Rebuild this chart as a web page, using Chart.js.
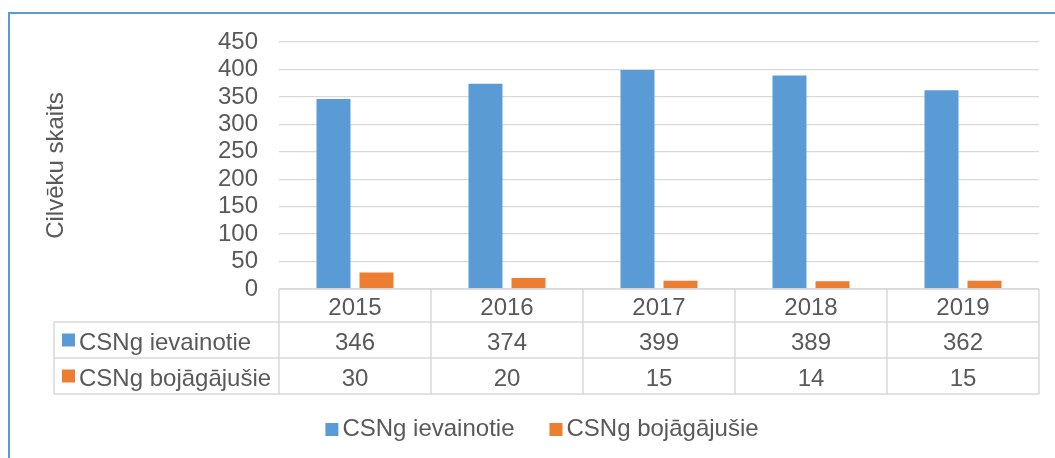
<!DOCTYPE html>
<html><head><meta charset="utf-8">
<script src="https://cdn.jsdelivr.net/npm/chart.js@4"></script>
<style>
html,body{margin:0;padding:0;background:#fff;}
#wrap{position:relative;width:1055px;height:458px;overflow:hidden;background:#fff;}
#frame{position:absolute;left:8px;top:12px;width:1200px;height:600px;border-left:2px solid #5B9BD5;border-top:2px solid #5B9BD5;box-sizing:border-box;}
canvas{position:absolute;left:0;top:0;}
</style></head><body>
<div id="wrap"><div id="frame"></div><canvas id="c" width="1055" height="458"></canvas></div>
<script>
// ---- data ----
const categories = ['2015', '2016', '2017', '2018', '2019'];
const seriesNames = ['CSNg ievainotie', 'CSNg bojāgājušie'];
const injured = [346, 374, 399, 389, 362];
const killed = [30, 20, 15, 14, 15];
const yMin = 0, yMax = 450, yStep = 50;
const yTitle = 'Cilvēku skaits';

// ---- style ----
const colors = ['#5B9BD5', '#ED7D31'];
const textColor = '#595959';
const gridColor = '#d9d9d9';
const fontFamily = '"Liberation Sans", Arial, sans-serif';
const fontSize = 24;

const seriesValues = [injured, killed];

const tablePlugin = {
  id: 'dataTable',
  afterDraw(chart) {
    const ctx = chart.ctx;
    const xs = chart.scales.x, ys = chart.scales.y;
    const half = (xs.getPixelForValue(1) - xs.getPixelForValue(0)) / 2;
    const left = xs.getPixelForValue(0) - half;
    const n = categories.length;
    const top = ys.getPixelForValue(0);
    const rows = [top, top + 33, top + 69, top + 105];
    const labelLeft = 54;
    ctx.save();
    ctx.strokeStyle = gridColor;
    ctx.lineWidth = 1.5;
    const line = (x1, y1, x2, y2) => { ctx.beginPath(); ctx.moveTo(x1, y1); ctx.lineTo(x2, y2); ctx.stroke(); };
    const right = left + n * 2 * half;
    line(left, rows[0], right, rows[0]);
    line(labelLeft, rows[1], right, rows[1]);
    line(labelLeft, rows[2], right, rows[2]);
    line(labelLeft, rows[3], right, rows[3]);
    for (let i = 0; i <= n; i++) {
      const x = left + i * 2 * half;
      line(x, rows[0], x, rows[3]);
    }
    line(labelLeft, rows[1], labelLeft, rows[3]);

    ctx.font = fontSize + 'px ' + fontFamily;
    ctx.fillStyle = textColor;
    ctx.textBaseline = 'alphabetic';
    ctx.textAlign = 'center';
    categories.forEach((c, i) => {
      ctx.fillText(c, xs.getPixelForValue(i), rows[0] + 26);
    });
    seriesValues.forEach((vals, s) => {
      const base = rows[s + 1] + 28;
      ctx.textAlign = 'center';
      ctx.fillStyle = textColor;
      vals.forEach((v, i) => ctx.fillText(String(v), xs.getPixelForValue(i), base));
      const cy = (rows[s + 1] + rows[s + 2]) / 2;
      ctx.fillStyle = colors[s];
      ctx.fillRect(62, cy - 6.5, 13, 13);
      ctx.fillStyle = textColor;
      ctx.textAlign = 'left';
      ctx.fillText(seriesNames[s], 79, base);
    });

    // legend
    const box = 13, gap = 4, itemGap = 35;
    const widths = seriesNames.map(s => ctx.measureText(s).width);
    const total = widths.reduce((a, w) => a + box + gap + w, 0) + itemGap * (seriesNames.length - 1);
    let x = 542 - total / 2;
    const ly = 436;
    seriesNames.forEach((s, i) => {
      ctx.fillStyle = colors[i];
      ctx.fillRect(x, ly - 13, box, box);
      ctx.fillStyle = textColor;
      ctx.textAlign = 'left';
      ctx.fillText(s, x + box + gap, ly);
      x += box + gap + widths[i] + itemGap;
    });
    ctx.restore();
  }
};

new Chart(document.getElementById('c'), {
  type: 'bar',
  data: {
    labels: categories,
    datasets: seriesNames.map((name, i) => ({
      label: name,
      data: seriesValues[i],
      backgroundColor: colors[i],
      borderWidth: 0,
      categoryPercentage: 0.566,
      barPercentage: 0.79
    }))
  },
  options: {
    responsive: false,
    animation: false,
    devicePixelRatio: 1,
    layout: { padding: { top: 42, bottom: 169, right: 16, left: 0 } },
    plugins: { legend: { display: false }, tooltip: { enabled: false } },
    scales: {
      x: { display: false },
      y: {
        min: yMin, max: yMax,
        ticks: { stepSize: yStep, autoSkip: false, padding: 21, color: textColor, font: { family: fontFamily, size: fontSize } },
        grid: { color: gridColor, lineWidth: 1.3, drawTicks: false },
        border: { display: false },
        title: { display: true, text: yTitle, color: textColor, font: { family: fontFamily, size: fontSize }, padding: { top: 41.6, bottom: 0 } },
        afterFit(scale) { scale.width = 279; }
      }
    }
  },
  plugins: [tablePlugin]
});
</script>
</body></html>
